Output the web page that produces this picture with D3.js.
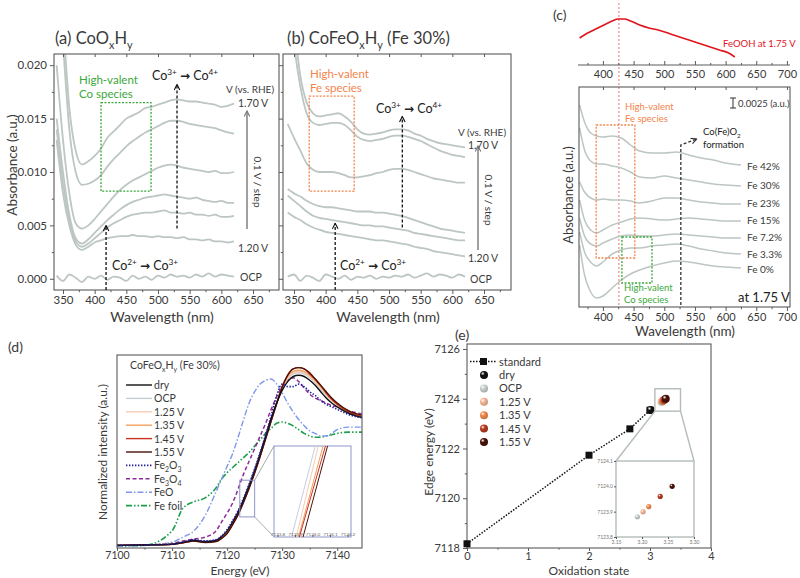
<!DOCTYPE html>
<html><head><meta charset="utf-8">
<script src="https://cdn.jsdelivr.net/npm/d3@7"></script>
<style>body{margin:0;background:#fff}svg{font-family:Lato,'Noto Sans',sans-serif}</style>
</head><body><svg id="c" width="800" height="578"></svg>
<script>
// ================= DATA =================
// (a)/(b) UV-vis spectra
const wlAB = [340,350,360,370,380,390,400,410,420,430,440,450,460,470,480,490,500,510,520,530,540,550,560,570,580,590,600,610,620];
const xTicksAB = [350,400,450,500,550,600,650];
const yTicksA = [0,0.005,0.010,0.015,0.020];
const a_OCP = [0.0003,-0.0002,0.0004,0.0001,-0.0003,0.0002,0.0000,0.0003,-0.0001,0.0002,0.0001,-0.0002,0.0003,0.0000,0.0002,-0.0001,0.0003,0.0001,0.0004,0.0002,0.0003,0.0001,0.0004,0.0002,0.0005,0.0002,0.0004,0.0003,0.0002];
const a_120 = [0.013,0.008,0.005,0.0032,0.0027,0.0030,0.0034,0.0036,0.0038,0.0039,0.0040,0.0040,0.0041,0.0040,0.0040,0.0039,0.0040,0.0039,0.0039,0.0038,0.0039,0.0037,0.0037,0.0036,0.0037,0.0035,0.0035,0.0034,0.0035];
const a_130 = [0.014,0.009,0.0055,0.0035,0.0030,0.0033,0.0038,0.0043,0.0048,0.0052,0.0055,0.0058,0.0060,0.0061,0.0062,0.0062,0.0063,0.0064,0.0062,0.0062,0.0061,0.0062,0.0060,0.0060,0.0059,0.0060,0.0058,0.0058,0.0059];
const a_140 = [0.015,0.010,0.006,0.0038,0.0033,0.0037,0.0043,0.0049,0.0055,0.0060,0.0065,0.0069,0.0072,0.0074,0.0076,0.0077,0.0078,0.0079,0.0078,0.0077,0.0076,0.0075,0.0076,0.0074,0.0073,0.0072,0.0073,0.0071,0.0071];
const a_150 = [0.020,0.013,0.008,0.0052,0.0047,0.0050,0.0056,0.0063,0.0070,0.0077,0.0083,0.0088,0.0092,0.0095,0.0098,0.0101,0.0104,0.0106,0.0107,0.0106,0.0104,0.0103,0.0102,0.0101,0.0100,0.0101,0.0099,0.0099,0.0100];
const a_160 = [0.030,0.022,0.014,0.0100,0.0088,0.0089,0.0092,0.0097,0.0105,0.0112,0.0118,0.0124,0.0129,0.0133,0.0137,0.0140,0.0143,0.0146,0.0148,0.0148,0.0147,0.0145,0.0144,0.0143,0.0142,0.0141,0.0139,0.0137,0.0136];
const a_170 = [0.030,0.024,0.016,0.0120,0.0107,0.0110,0.0115,0.0122,0.0132,0.0138,0.0144,0.0150,0.0153,0.0156,0.0160,0.0161,0.0163,0.0165,0.0167,0.0168,0.0167,0.0166,0.0166,0.0165,0.0164,0.0163,0.0161,0.0162,0.0164];
const b_OCP = [0.0002,0.0004,-0.0002,0.0003,0.0001,-0.0002,0.0004,0.0002,0.0000,0.0003,-0.0001,0.0002,0.0001,0.0003,0.0000,0.0002,0.0001,0.0003,0.0002,0.0004,0.0001,0.0003,0.0005,0.0002,0.0004,0.0003,0.0001,0.0004,0.0002];
const b_120 = [0.0062,0.0058,0.0055,0.0051,0.0048,0.0046,0.0044,0.0043,0.0042,0.0041,0.0040,0.0039,0.0038,0.0037,0.0036,0.0036,0.0035,0.0034,0.0033,0.0032,0.0030,0.0029,0.0028,0.0026,0.0025,0.0024,0.0023,0.0022,0.0021];
const b_130 = [0.0078,0.0073,0.0068,0.0063,0.0059,0.0057,0.0056,0.0055,0.0054,0.0053,0.0052,0.0051,0.0050,0.0050,0.0049,0.0049,0.0048,0.0047,0.0046,0.0045,0.0043,0.0042,0.0041,0.0040,0.0039,0.0038,0.0037,0.0036,0.0036];
const b_140 = [0.0084,0.0080,0.0077,0.0073,0.0070,0.0068,0.0067,0.0067,0.0066,0.0065,0.0064,0.0063,0.0063,0.0063,0.0062,0.0062,0.0061,0.0060,0.0059,0.0057,0.0055,0.0053,0.0051,0.0049,0.0047,0.0046,0.0045,0.0044,0.0043];
const b_150 = [0.0145,0.0132,0.0120,0.0108,0.0102,0.0100,0.0100,0.0100,0.0099,0.0097,0.0095,0.0095,0.0096,0.0097,0.0099,0.0100,0.0102,0.0103,0.0103,0.0102,0.0100,0.0098,0.0096,0.0094,0.0093,0.0092,0.0091,0.0090,0.0090];
const b_160 = [0.028,0.022,0.018,0.0155,0.0146,0.0144,0.0145,0.0146,0.0146,0.0144,0.0139,0.0133,0.0130,0.0129,0.0130,0.0131,0.0133,0.0134,0.0134,0.0133,0.0131,0.0129,0.0126,0.0123,0.0120,0.0118,0.0116,0.0115,0.0114];
const b_170 = [0.030,0.024,0.019,0.0165,0.0155,0.0152,0.0153,0.0154,0.0155,0.0152,0.0147,0.0140,0.0136,0.0135,0.0136,0.0137,0.0139,0.0140,0.0140,0.0139,0.0136,0.0134,0.0131,0.0129,0.0127,0.0126,0.0125,0.0124,0.0123];

// (c) FeOOH reference and Fe-content series at 1.75 V
const wlFeOOH = [362,375,385,395,405,415,425,435,445,460,475,490,510,530,550,570,590,605,615];
const feoohAbs = [0.54,0.64,0.70,0.76,0.82,0.88,0.92,0.92,0.88,0.80,0.74,0.70,0.62,0.54,0.46,0.38,0.30,0.24,0.16];
const xTicksC = [400,450,500,550,600,650,700];
const wlC = [362,370,380,390,400,415,430,445,460,480,500,520,540,560,580,600,625];
const feLabels = ['Fe 42%','Fe 30%','Fe 23%','Fe 15%','Fe 7.2%','Fe 3.3%','Fe 0%'];
const c_Fe42 = [0.0505,0.04625,0.0435,0.04275,0.0425,0.04275,0.04225,0.0405,0.039,0.0385,0.0385,0.03875,0.038,0.03725,0.03675,0.036,0.0355];
const c_Fe30 = [0.04475,0.03925,0.0365,0.03575,0.03575,0.03525,0.03475,0.03375,0.0325,0.03225,0.03275,0.03225,0.03175,0.03125,0.03075,0.0305,0.03025];
const c_Fe23 = [0.03125,0.02875,0.02725,0.02675,0.027,0.02675,0.02675,0.0265,0.026,0.0265,0.02725,0.02725,0.02675,0.02625,0.026,0.02575,0.02575];
const c_Fe15 = [0.02675,0.02175,0.01925,0.0185,0.01925,0.0205,0.02125,0.022,0.02225,0.022,0.02175,0.022,0.02225,0.022,0.02175,0.0215,0.0215];
const c_Fe72 = [0.02225,0.01775,0.01575,0.01525,0.016,0.017,0.01775,0.018,0.01775,0.01775,0.018,0.01825,0.018,0.01775,0.0175,0.01725,0.01725];
const c_Fe33 = [0.01875,0.01375,0.01125,0.01025,0.01125,0.01325,0.01425,0.01475,0.01475,0.01525,0.0155,0.01575,0.01525,0.0145,0.014,0.0135,0.01325];
const c_Fe0  = [0.0155,0.008,0.00375,0.00225,0.00275,0.00475,0.00675,0.00825,0.00925,0.01025,0.011,0.0115,0.01125,0.01075,0.01025,0.01,0.00975];

// (d) XANES
const eD = [7100,7105,7110,7112,7114,7116,7118,7119,7120,7121,7122,7123,7124,7125,7126,7127,7128,7129,7130,7131,7132,7133,7134,7135,7136,7137,7138,7139,7140,7142,7145];
const xTicksD = [7100,7110,7120,7130,7140];
const d_dry  = [0.005,0.008,0.015,0.03,0.045,0.035,0.045,0.075,0.12,0.19,0.27,0.37,0.48,0.60,0.73,0.87,1.01,1.13,1.23,1.30,1.34,1.35,1.34,1.31,1.27,1.22,1.17,1.13,1.10,1.05,1.01];
const d_OCP  = [0.005,0.008,0.014,0.028,0.042,0.032,0.040,0.068,0.11,0.18,0.26,0.36,0.47,0.59,0.72,0.86,1.00,1.13,1.24,1.32,1.36,1.37,1.36,1.33,1.29,1.24,1.19,1.15,1.11,1.06,1.02];
const d_125  = [0.005,0.008,0.014,0.027,0.041,0.031,0.039,0.066,0.108,0.178,0.258,0.358,0.468,0.588,0.718,0.858,0.998,1.13,1.245,1.33,1.37,1.38,1.37,1.34,1.30,1.25,1.20,1.15,1.12,1.06,1.02];
const d_135  = [0.005,0.008,0.014,0.027,0.040,0.030,0.038,0.064,0.105,0.175,0.255,0.355,0.465,0.585,0.715,0.855,0.995,1.13,1.25,1.34,1.38,1.39,1.38,1.35,1.31,1.26,1.21,1.16,1.12,1.06,1.02];
const d_145  = [0.005,0.008,0.013,0.026,0.039,0.029,0.036,0.062,0.10,0.17,0.25,0.35,0.46,0.58,0.71,0.85,0.99,1.13,1.26,1.35,1.40,1.41,1.40,1.36,1.32,1.27,1.21,1.16,1.12,1.06,1.02];
const d_155  = [0.005,0.008,0.013,0.026,0.038,0.028,0.035,0.060,0.098,0.168,0.247,0.347,0.457,0.577,0.707,0.847,0.987,1.125,1.255,1.35,1.40,1.41,1.40,1.37,1.32,1.27,1.22,1.17,1.13,1.07,1.03];
const d_Fe2O3 = [0.005,0.008,0.015,0.03,0.05,0.04,0.05,0.08,0.13,0.20,0.28,0.38,0.49,0.61,0.74,0.88,1.03,1.19,1.28,1.26,1.26,1.28,1.26,1.22,1.19,1.15,1.12,1.10,1.08,1.04,1.01];
const d_Fe3O4 = [0.005,0.008,0.02,0.04,0.055,0.07,0.12,0.19,0.26,0.34,0.45,0.57,0.67,0.77,0.87,0.97,1.08,1.18,1.26,1.31,1.33,1.30,1.25,1.20,1.17,1.15,1.13,1.11,1.10,1.07,1.04];
const d_FeO  = [0.0,0.005,0.03,0.07,0.12,0.24,0.43,0.53,0.63,0.73,0.86,1.00,1.13,1.22,1.28,1.31,1.32,1.28,1.21,1.13,1.06,1.00,0.95,0.91,0.89,0.87,0.87,0.89,0.92,0.94,0.94];
const d_foil = [0.0,0.005,0.12,0.30,0.35,0.38,0.46,0.53,0.58,0.62,0.66,0.70,0.74,0.79,0.84,0.89,0.93,0.97,0.98,0.97,0.95,0.92,0.89,0.87,0.86,0.86,0.87,0.88,0.89,0.90,0.90];
const legendD = ['dry','OCP','1.25 V','1.35 V','1.45 V','1.55 V','Fe2O3','Fe3O4','FeO','Fe foil'];
// inset (d): edge energy at the inset bottom / top for the in-situ spectra
const insetDTicks = [7123.8,7123.9,7124.0,7124.1,7124.2];
const insetD_OCP = [7123.88,7124.016];
const insetD_125 = [7123.907,7124.033];
const insetD_135 = [7123.92,7124.06];
const insetD_145 = [7123.925,7124.074];
const insetD_155 = [7123.946,7124.086];

// (e) edge energy vs oxidation state
const stdOx = [0,2,2.67,3];
const stdE  = [7118.17,7121.73,7122.79,7123.54];
const sampNames = ['dry','OCP','1.25 V','1.35 V','1.45 V','1.55 V'];
const sampOx = [3.01,3.191,3.202,3.213,3.235,3.258];
const sampE  = [7123.55,7123.88,7123.90,7123.92,7123.96,7124.00];
const xTicksE = [0,1,2,3,4];
const yTicksE = [7118,7120,7122,7124,7126];
const insetEx = [3.15,3.20,3.25,3.30];
const insetEy = [7123.8,7123.9,7124.0,7124.1];

// ================= DRAWING =================
const FONT = "Lato,'Noto Sans',sans-serif";
const TXT = '#3a3a3a', AX = '#5a5a5a', GRAY = '#bcc6c2';
const svg = d3.select('#c');
const defs = svg.append('defs');
function clip(id,x0,y0,x1,y1){defs.append('clipPath').attr('id',id).append('rect').attr('x',x0).attr('y',y0).attr('width',x1-x0).attr('height',y1-y0);}
function marker(id,color){
  defs.append('marker').attr('id',id).attr('viewBox','0 0 10 10').attr('refX',9).attr('refY',5)
   .attr('markerWidth',7).attr('markerHeight',7).attr('orient','auto-start-reverse').attr('markerUnits','userSpaceOnUse')
   .append('path').attr('d','M1,1 L9,5 L1,9').attr('fill','none').attr('stroke',color).attr('stroke-width',1.6);
}
marker('arrK','#111'); marker('arrG','#777'); marker('arrKs','#333');
function txt(x,y,s,o={}){
  const t=svg.append('text').attr('x',x).attr('y',y).text(s).attr('font-size',o.size||11)
   .attr('fill',o.color||TXT).attr('text-anchor',o.anchor||'start');
  if(o.rot) t.attr('transform',`rotate(${o.rot},${x},${y})`);
  return t;
}
function rich(x,y,parts,size,color,anchor='start'){
  const t=svg.append('text').attr('x',x).attr('y',y).attr('font-size',size).attr('fill',color||TXT).attr('text-anchor',anchor);
  let shift=0;
  parts.forEach(p=>{
    const [s,type]=Array.isArray(p)?p:[p,null];
    const target=type==='sub'?size*0.28:type==='sup'?-size*0.38:0;
    const ts=t.append('tspan').text(s).attr('dy',target-shift);
    if(type==='sub'||type==='sup') ts.attr('font-size',size*0.66);
    if(type==='arrow') ts.attr('font-weight',900).attr('font-family',"'DejaVu Sans',sans-serif").attr('font-size',size*0.95);
    shift=target;
  });
  return t;
}
function frame(x0,y0,x1,y1,color=AX,w=1.1){
  svg.append('rect').attr('x',x0).attr('y',y0).attr('width',x1-x0).attr('height',y1-y0)
   .attr('fill','none').attr('stroke',color).attr('stroke-width',w);
}
function styleAxis(g,size=11){
  g.attr('font-family',FONT).attr('font-size',size);
  g.select('.domain').remove();
  g.selectAll('line').attr('stroke',AX);
  g.selectAll('text').attr('fill',TXT);
}
function bottomAxis(x,y,ticks,minor,fmt,size=11,len=4,pad=2){
  svg.append('g').attr('transform',`translate(0,${y})`).call(d3.axisBottom(x).tickValues(minor).tickSize(len*0.55).tickFormat('')).call(g=>styleAxis(g,size));
  svg.append('g').attr('transform',`translate(0,${y})`).call(d3.axisBottom(x).tickValues(ticks).tickSize(len).tickPadding(pad).tickFormat(fmt)).call(g=>styleAxis(g,size));
}
function leftAxis(x,y,ticks,minor,fmt,size=11,len=4){
  svg.append('g').attr('transform',`translate(${x},0)`).call(d3.axisLeft(y).tickValues(minor).tickSize(len*0.55).tickFormat('')).call(g=>styleAxis(g,size));
  svg.append('g').attr('transform',`translate(${x},0)`).call(d3.axisLeft(y).tickValues(ticks).tickSize(len).tickPadding(3).tickFormat(fmt)).call(g=>styleAxis(g,size));
}
function topTicks(x,y,ticks,len){
  svg.append('g').attr('transform',`translate(0,${y})`).call(d3.axisBottom(x).tickValues(ticks).tickSize(len).tickFormat('')).call(g=>styleAxis(g));
}
function series(g,xs,ys,xS,yS,color,w,dash,curve){
  const line=d3.line().x((d,i)=>xS(xs[i])).y(d=>yS(d)).curve(curve||d3.curveMonotoneX);
  const p=g.append('path').datum(ys).attr('d',line).attr('fill','none').attr('stroke',color).attr('stroke-width',w).attr('stroke-linejoin','round');
  if(dash) p.attr('stroke-dasharray',dash);
  return p;
}
function dbox(x0,y0,x1,y1,color){
  svg.append('rect').attr('x',x0).attr('y',y0).attr('width',x1-x0).attr('height',y1-y0)
   .attr('fill','none').attr('stroke',color).attr('stroke-width',1.3).attr('stroke-dasharray','2,1.5');
}
function arrowLine(pts,color,mk,dash,w=1.3){
  const p=svg.append('path').attr('d',d3.line()(pts)).attr('fill','none').attr('stroke',color).attr('stroke-width',w).attr('marker-end',`url(#${mk})`);
  if(dash) p.attr('stroke-dasharray',dash);
}
const GREEN='#3aa83a', ORANGE='#f2844a', RED='#e0141c';

// ---------- panel (a) ----------
const xA=d3.scaleLinear().domain([335.8,691]).range([54,279]);
const yA=d3.scaleLinear().domain([-0.00105,0.02105]).range([290,54]);
clip('cA',54,54,279,290);
const gA=svg.append('g').attr('clip-path','url(#cA)');
[a_OCP,a_120,a_130,a_140,a_150,a_160,a_170].forEach(s=>series(gA,wlAB,s,xA,yA,GRAY,1.8));
frame(54,54,279,290);
bottomAxis(xA,290,xTicksAB,[375,425,475,525,575,625,675],d3.format('d'),11.5);
leftAxis(54,yA,yTicksA,[0.0025,0.0075,0.0125,0.0175],d3.format('.3f'),11.5);
topTicks(xA,54,xTicksAB,3);
rich(55,44,['(a) CoO',['x','sub'],'H',['y','sub']],16.5,TXT);
dbox(xA(410),yA(0.0165),xA(489),yA(0.0082),GREEN);
txt(79,84,'High-valent',{size:11.5,color:GREEN}); txt(79,98,'Co species',{size:11.5,color:GREEN});
rich(152,80,['Co',['3+','sup'],' ',['→','arrow'],' Co',['4+','sup']],12.5,'#222');
arrowLine([[xA(530),yA(0.0047)],[xA(530),yA(0.0182)]],'#111','arrK','3,2');
rich(112,270,['Co',['2+','sup'],' ',['→','arrow'],' Co',['3+','sup']],12.5,'#222');
arrowLine([[xA(418),290],[xA(418),yA(0.0050)]],'#111','arrK','3,2');
txt(226,93,'V (vs. RHE)',{size:10}); txt(238,107,'1.70 V',{size:10.5});
arrowLine([[247,229],[247,111]],'#777','arrG',null,1.4);
txt(254,182,'0.1 V / step',{size:10,anchor:'middle',rot:90});
txt(238,252,'1.20 V',{size:10.5}); txt(240,281,'OCP',{size:10.5});
txt(17,165,'Absorbance (a.u.)',{size:13.5,anchor:'middle',rot:-90});
txt(162,322,'Wavelength (nm)',{size:14,anchor:'middle'});

// ---------- panel (b) ----------
const xB=d3.scaleLinear().domain([332.6,692.6]).range([283,511]);
const yB=yA;
clip('cB',283,54,511,290);
const gB=svg.append('g').attr('clip-path','url(#cB)');
[b_OCP,b_120,b_130,b_140,b_150,b_160,b_170].forEach(s=>series(gB,wlAB,s,xB,yB,GRAY,1.8));
frame(283,54,511,290);
bottomAxis(xB,290,xTicksAB,[375,425,475,525,575,625,675],d3.format('d'),11.5);
leftAxis(283,yB,yTicksA,[0.0025,0.0075,0.0125,0.0175],'');
topTicks(xB,54,xTicksAB,3);
rich(287,44,['(b) CoFeO',['x','sub'],'H',['y','sub'],' (Fe 30%)'],16.5,TXT);
dbox(xB(374),yB(0.0171),xB(445),yB(0.0082),ORANGE);
txt(310,78,'High-valent',{size:11.5,color:ORANGE}); txt(310,92,'Fe species',{size:11.5,color:ORANGE});
rich(376,113,['Co',['3+','sup'],' ',['→','arrow'],' Co',['4+','sup']],12.5,'#222');
arrowLine([[xB(521),yB(0.0048)],[xB(521),yB(0.0152)]],'#111','arrK','3,2');
rich(340,270,['Co',['2+','sup'],' ',['→','arrow'],' Co',['3+','sup']],12.5,'#222');
arrowLine([[xB(415),290],[xB(415),yB(0.0052)]],'#111','arrK','3,2');
txt(458,136,'V (vs. RHE)',{size:10}); txt(468,149,'1.70 V',{size:10.5});
arrowLine([[478,250],[478,146]],'#777','arrG',null,1.4);
txt(485,200,'0.1 V / step',{size:10,anchor:'middle',rot:90});
txt(468,262,'1.20 V',{size:10.5}); txt(470,283,'OCP',{size:10.5});
txt(388,322,'Wavelength (nm)',{size:14,anchor:'middle'});

// ---------- panel (c) ----------
const xC=d3.scaleLinear().domain([361,705]).range([579,790]);
const yTop=d3.scaleLinear().domain([0,1]).range([65,15]);
const yC=d3.scaleLinear().domain([0,0.055]).range([307,87]);
txt(553,20,'(c)',{size:14});
svg.append('line').attr('x1',xC(426)).attr('x2',xC(426)).attr('y1',3).attr('y2',307).attr('stroke','#f08a8a').attr('stroke-width',1.2).attr('stroke-dasharray','2,2');
series(svg,wlFeOOH,feoohAbs,xC,yTop,RED,1.6);
txt(723,47,'FeOOH at 1.75 V',{size:9.5,color:RED});
svg.append('line').attr('x1',578).attr('x2',790).attr('y1',65).attr('y2',65).attr('stroke',AX);
svg.append('g').attr('transform','translate(0,65)').call(d3.axisTop(xC).tickValues(xTicksC).tickSize(4).tickFormat('')).call(g=>styleAxis(g));
svg.append('g').attr('transform','translate(0,65)').call(d3.axisTop(xC).tickValues([375,425,475,525,575,625,675]).tickSize(2).tickFormat('')).call(g=>styleAxis(g));
svg.append('g').attr('transform','translate(0,65)').call(d3.axisBottom(xC).tickValues(xTicksC).tickSize(0).tickPadding(5).tickFormat(d3.format('d'))).call(g=>styleAxis(g,11));
clip('cC',579,87,790,307);
const gC=svg.append('g').attr('clip-path','url(#cC)');
[c_Fe42,c_Fe30,c_Fe23,c_Fe15,c_Fe72,c_Fe33,c_Fe0].forEach(s=>series(gC,wlC,s,xC,yC,GRAY,1.5));
frame(579,87,790,307);
bottomAxis(xC,307,xTicksC,[375,425,475,525,575,625,675],d3.format('d'),11);
topTicks(xC,87,xTicksC,3);
dbox(xC(389),yC(0.0455),xC(452),yC(0.01225),ORANGE);
dbox(xC(431),yC(0.0175),xC(480),yC(0.006),GREEN);
txt(625,110,'High-valent',{size:9.5,color:ORANGE}); txt(625,122,'Fe species',{size:9.5,color:ORANGE});
txt(624,291,'High-valent',{size:9.5,color:GREEN}); txt(624,303,'Co species',{size:9.5,color:GREEN});
svg.append('line').attr('x1',xC(527)).attr('x2',xC(527)).attr('y1',yC(0.0375)).attr('y2',307).attr('stroke','#333').attr('stroke-width',1.3).attr('stroke-dasharray','3,2');
arrowLine([[xC(527),yC(0.0375)],[xC(527),yC(0.0405)],[xC(553),yC(0.042)]],'#333','arrKs','3,2');
rich(703,135,['Co(Fe)O',['2','sub']],9.5,'#222'); txt(703,148,'formation',{size:9.5,color:'#222'});
const feLabelY=[170,189,207,224,241,258,273];
feLabels.forEach((l,i)=>txt(747,feLabelY[i],l,{size:10}));
svg.append('path').attr('d',`M730,${yC(0.05225)}H736M733,${yC(0.05225)}V${yC(0.04975)}M730,${yC(0.04975)}H736`).attr('stroke','#333').attr('stroke-width',1);
txt(738,107,'0.0025 (a.u.)',{size:9.5});
txt(738,302,'at 1.75 V',{size:13,color:'#222'});
txt(573,195,'Absorbance (a.u.)',{size:13,anchor:'middle',rot:-90});
txt(685,336,'Wavelength (nm)',{size:13.5,anchor:'middle'});

// ---------- panel (d) ----------
const xD=d3.scaleLinear().domain([7100,7144.5]).range([117,362]);
const yD=d3.scaleLinear().domain([-0.016,1.51]).range([548,355]);
txt(8,352,'(d)',{size:14});
clip('cD',117,355,362,548);
const gD=svg.append('g').attr('clip-path','url(#cD)');
const styD=[
 [d_foil,'#1c9e4c',1.6,'6,2,1.5,2,1.5,2'],
 [d_FeO,'#7f97ea',1.4,'6,2,1.5,2'],
 [d_Fe3O4,'#8b2a99',1.5,'4,2.5'],
 [d_OCP,'#c6ced2',1.4,null],
 [d_125,'#f7cbb5',1.4,null],
 [d_135,'#f4a05c',1.4,null],
 [d_145,'#c8321e',1.4,null],
 [d_155,'#4a1208',1.4,null],
 [d_dry,'#111111',1.4,null],
 [d_Fe2O3,'#1e1e9c',1.6,'1.4,1.6']
];
styD.forEach(s=>series(gD,eD,s[0],xD,yD,s[1],s[2],s[3]));
frame(117,355,362,548);
bottomAxis(xD,548,xTicksD,[7105,7115,7125,7135],d3.format('d'),10.5,3,1);
rich(130,369,['CoFeO',['x','sub'],'H',['y','sub'],' (Fe 30%)'],10.5,TXT);
const legOrder=[8,3,4,5,6,7,9,2,1,0];
legendD.forEach((l,i)=>{
  const s=styD[legOrder[i]], y=385+i*13.4;
  const ln=svg.append('line').attr('x1',126).attr('x2',152).attr('y1',y).attr('y2',y).attr('stroke',s[1]).attr('stroke-width',s[2]);
  if(s[3]) ln.attr('stroke-dasharray',s[3]);
  if(l==='Fe2O3') rich(154,y+4,['Fe',['2','sub'],'O',['3','sub']],10.5,TXT);
  else if(l==='Fe3O4') rich(154,y+4,['Fe',['3','sub'],'O',['4','sub']],10.5,TXT);
  else txt(154,y+4,l,{size:10.5});
});
svg.append('rect').attr('x',xD(7122.3)).attr('y',yD(0.52)).attr('width',xD(7125)-xD(7122.3)).attr('height',yD(0.23)-yD(0.52)).attr('fill','none').attr('stroke','#8d96c8').attr('stroke-width',1);
svg.append('line').attr('x1',xD(7125)).attr('y1',yD(0.52)).attr('x2',274).attr('y2',446).attr('stroke','#aaa');
svg.append('line').attr('x1',xD(7125)).attr('y1',yD(0.23)).attr('x2',274).attr('y2',537).attr('stroke','#aaa');
const xDi=d3.scaleLinear().domain([7123.78,7124.22]).range([274,351]);
const yDi=d3.scaleLinear().domain([0,1]).range([537,446]);
svg.append('rect').attr('x',274).attr('y',446).attr('width',77).attr('height',91).attr('fill','#fff').attr('stroke','#8d96c8').attr('stroke-width',1);
clip('cDi',274,446,351,537);
const gDi=svg.append('g').attr('clip-path','url(#cDi)');
[[insetD_OCP,'#c6d0e0'],[insetD_125,'#f7cbb5'],[insetD_135,'#f4a05c'],[insetD_145,'#c8321e'],[insetD_155,'#4a1208']].forEach(s=>{
  gDi.append('path').datum(s[0]).attr('d',d3.line().x(d=>xDi(d)).y((d,i)=>yDi(i))).attr('stroke',s[1]).attr('stroke-width',1).attr('fill','none');
});
svg.append('g').attr('transform','translate(0,537)').call(d3.axisTop(xDi).tickValues(insetDTicks).tickSize(2).tickFormat(d3.format('.1f'))).call(g=>{styleAxis(g,4.6);g.selectAll('text').attr('fill','#666').attr('transform','translate(0,4)');});
txt(107,452,'Normalized intensity (a.u.)',{size:12,anchor:'middle',rot:-90});
txt(240,575,'Energy (eV)',{size:12,anchor:'middle'});

// ---------- panel (e) ----------
const xE=d3.scaleLinear().domain([0,4]).range([467,711]);
const yE=d3.scaleLinear().domain([7118,7126.2]).range([548,344]);
txt(455,340,'(e)',{size:14});
frame(467,344,711,548);
bottomAxis(xE,548,xTicksE,[0.5,1.5,2.5,3.5],d3.format('d'),11,3,1);
leftAxis(467,yE,yTicksE,[7119,7121,7123,7125],d3.format('d'),11);
const sphereCols=['#111111','#c9d2cf','#f5b896','#f28a4c','#b63a20','#4a1008'];
sphereCols.forEach((c,i)=>{
  const g=defs.append('radialGradient').attr('id','sg'+i).attr('cx','35%').attr('cy','32%').attr('r','70%');
  g.append('stop').attr('offset','0%').attr('stop-color','#fff');
  g.append('stop').attr('offset','35%').attr('stop-color',c);
  g.append('stop').attr('offset','100%').attr('stop-color',d3.color(c).darker(0.6));
});
svg.append('path').datum(stdE).attr('d',d3.line().x((d,i)=>xE(stdOx[i])).y(d=>yE(d))).attr('fill','none').attr('stroke','#111').attr('stroke-width',1.5).attr('stroke-dasharray','1.5,1.5');
svg.selectAll('.sq').data(stdE).enter().append('rect').attr('x',(d,i)=>xE(stdOx[i])-3.5).attr('y',d=>yE(d)-3.5).attr('width',7).attr('height',7).attr('fill','#111');
sampE.forEach((e,i)=>svg.append('circle').attr('cx',xE(sampOx[i])).attr('cy',yE(e)).attr('r',4).attr('fill',`url(#sg${i})`));
svg.append('rect').attr('x',xE(3.08)).attr('y',yE(7124.4)).attr('width',xE(3.5)-xE(3.08)).attr('height',yE(7123.5)-yE(7124.4)).attr('fill','none').attr('stroke','#b3bcba').attr('stroke-width',1.4);
svg.append('line').attr('x1',xE(3.08)).attr('y1',yE(7123.5)).attr('x2',616).attr('y2',461).attr('stroke','#b3bcba').attr('stroke-width',1.4);
svg.append('line').attr('x1',xE(3.5)).attr('y1',yE(7123.5)).attr('x2',694).attr('y2',461).attr('stroke','#b3bcba').attr('stroke-width',1.4);
const xEi=d3.scaleLinear().domain([3.15,3.30]).range([616,694]);
const yEi=d3.scaleLinear().domain([7123.8,7124.1]).range([537,461]);
svg.append('rect').attr('x',616).attr('y',461).attr('width',78).attr('height',76).attr('fill','#fff').attr('stroke','#b3bcba').attr('stroke-width',1.4);
svg.append('g').attr('transform','translate(0,537)').call(d3.axisBottom(xEi).tickValues(insetEx).tickSize(2).tickPadding(1).tickFormat(d3.format('.2f'))).call(g=>{styleAxis(g,5);g.selectAll('text').attr('fill','#777');});
svg.append('g').attr('transform','translate(616,0)').call(d3.axisLeft(yEi).tickValues(insetEy).tickSize(2).tickPadding(1).tickFormat(d3.format('.1f'))).call(g=>{styleAxis(g,5);g.selectAll('text').attr('fill','#777');});
sampE.forEach((e,i)=>{ if(i>0) svg.append('circle').attr('cx',xEi(sampOx[i])).attr('cy',yEi(e)).attr('r',2.6).attr('fill',`url(#sg${i})`); });
svg.append('line').attr('x1',470).attr('x2',497).attr('y1',361.5).attr('y2',361.5).attr('stroke','#111').attr('stroke-width',1.5).attr('stroke-dasharray','1.5,1.5');
svg.append('rect').attr('x',480).attr('y',358).attr('width',7).attr('height',7).attr('fill','#111');
txt(499,365.5,'standard',{size:11});
sampNames.forEach((n,i)=>{
  const y=375+i*13.4;
  svg.append('circle').attr('cx',484).attr('cy',y).attr('r',4).attr('fill',`url(#sg${i})`);
  txt(499,y+4,n,{size:11});
});
txt(433,452,'Edge energy (eV)',{size:12,anchor:'middle',rot:-90});
txt(589,575,'Oxidation state',{size:12,anchor:'middle'});
</script></body></html>
